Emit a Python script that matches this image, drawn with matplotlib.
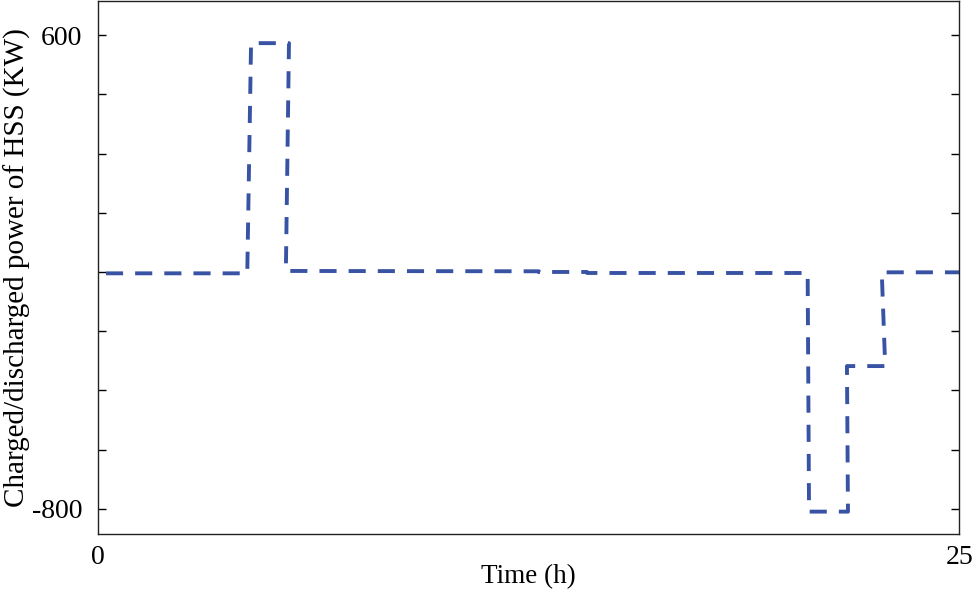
import matplotlib
matplotlib.use("Agg")
from matplotlib import pyplot as plt

# Charged/discharged power of HSS over the day
time_h = [0.24, 4.34, 4.45, 5.55, 5.46, 12.8, 12.8, 14.2, 14.2,
          20.60, 20.64, 21.77, 21.74, 22.85, 22.75, 25.0]
power_kw = [-104, -104, 576, 576, -97, -98, -100, -100, -103,
            -103, -808, -808, -378, -378, -101, -101]

y_ticks = [-800, -625, -450, -275, -100, 75, 250, 425, 600]
y_tick_labels = ["-800", "", "", "", "", "", "", "", "600"]
x_ticks = [0, 25]
x_tick_labels = ["0", "25"]

plt.rcParams["font.family"] = ["Liberation Serif", "DejaVu Serif"]

fig = plt.figure(figsize=(9.75, 5.9), dpi=100)
ax = fig.add_axes([0.1002, 0.0944, 0.8837, 0.9036])

ax.plot(time_h, power_kw, color="#3953A4", linewidth=2.8,
        linestyle=(0, (4.4, 3.1)))

ax.set_xlim(0, 25)
ax.set_ylim(-875, 700)
ax.set_xticks(x_ticks)
ax.set_xticklabels(x_tick_labels)
ax.set_yticks(y_ticks)
ax.set_yticklabels(y_tick_labels)

ax.tick_params(axis="y", direction="in", length=6, width=1, right=True,
               labelsize=20, pad=11)
ax.tick_params(axis="x", length=0, labelsize=20, pad=8)

for spine in ax.spines.values():
    spine.set_linewidth(1.0)
    spine.set_color("#222222")

ax.set_xlabel("Time (h)", fontsize=19.5, labelpad=-4.5)
ax.set_ylabel("Charged/discharged power of HSS (KW)", fontsize=21, labelpad=1)

fig.savefig("out.png", dpi=100)
